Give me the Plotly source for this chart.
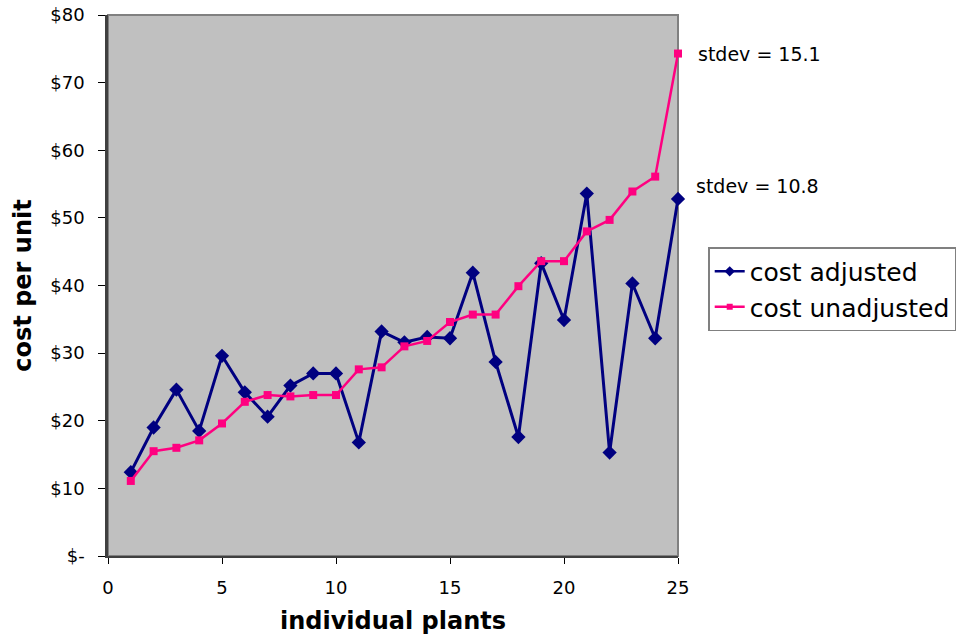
import plotly.graph_objects as go

plants = list(range(1, 26))
cost_adjusted = [12.4, 19.0, 24.6, 18.5, 29.6, 24.2, 20.6, 25.2, 27.0, 27.0,
                 16.8, 33.2, 31.6, 32.4, 32.2, 41.9, 28.7, 17.6, 43.3, 34.9,
                 53.6, 15.3, 40.3, 32.2, 52.8]
cost_unadjusted = [11.1, 15.5, 16.0, 17.1, 19.6, 22.8, 23.8, 23.6, 23.8, 23.8,
                   27.6, 27.9, 31.0, 31.8, 34.6, 35.7, 35.7, 39.9, 43.6, 43.6,
                   48.0, 49.7, 53.9, 56.1, 74.3]
y_tickvals = [0, 10, 20, 30, 40, 50, 60, 70, 80]
y_ticktext = ["$-", "$10", "$20", "$30", "$40", "$50", "$60", "$70", "$80"]
x_tickvals = [0, 5, 10, 15, 20, 25]
stdev_labels = ["stdev = 15.1", "stdev = 10.8"]
series_names = ["cost adjusted", "cost unadjusted"]

FONT = "DejaVu Sans"
NAVY = "#000080"
PINK = "#FF0080"

fig = go.Figure()
fig.add_trace(go.Scatter(
    x=plants, y=cost_adjusted, name=series_names[0], mode="lines+markers",
    line=dict(color=NAVY, width=3),
    marker=dict(symbol="diamond", size=11, color=NAVY),
    cliponaxis=False, showlegend=False))
fig.add_trace(go.Scatter(
    x=plants, y=cost_unadjusted, name=series_names[1], mode="lines+markers",
    line=dict(color=PINK, width=2.5),
    marker=dict(symbol="square", size=8, color=PINK),
    cliponaxis=False, showlegend=False))
# legend entries with smaller markers
fig.add_trace(go.Scatter(
    x=[None], y=[None], name=series_names[0], mode="lines+markers",
    line=dict(color=NAVY, width=2.5),
    marker=dict(symbol="diamond", size=8, color=NAVY)))
fig.add_trace(go.Scatter(
    x=[None], y=[None], name=series_names[1], mode="lines+markers",
    line=dict(color=PINK, width=2.5),
    marker=dict(symbol="square", size=6, color=PINK)))

fig.add_annotation(x=plants[-1], y=cost_unadjusted[-1], xref="x", yref="y",
                   text=stdev_labels[0], showarrow=False, xanchor="left",
                   xshift=18, font=dict(family=FONT, size=19, color="black"))
fig.add_annotation(x=plants[-1], y=54.7, xref="x", yref="y",
                   text=stdev_labels[1], showarrow=False, xanchor="left",
                   xshift=16, font=dict(family=FONT, size=19, color="black"))

fig.add_shape(type="rect", xref="paper", yref="paper", x0=0, y0=0, x1=1, y1=1,
              line=dict(color="#808080", width=2), layer="below")

fig.update_layout(
    width=964, height=641,
    margin=dict(l=108, r=286, t=15, b=85, autoexpand=False),
    paper_bgcolor="white", plot_bgcolor="#C0C0C0",
    font=dict(family=FONT, color="black"),
    showlegend=True,
    legend=dict(x=1.053, y=0.571, xanchor="left", yanchor="top",
                bordercolor="#808080", borderwidth=1.5, bgcolor="white",
                font=dict(family=FONT, size=25), tracegroupgap=0,
                itemwidth=30),
    xaxis=dict(range=[0, 25], tickvals=x_tickvals, showgrid=False, zeroline=False,
               showline=True, linecolor="#404040", linewidth=2,
               ticks="outside", ticklen=6, tickcolor="black",
               tickfont=dict(family=FONT, size=18), ticklabelstandoff=8,
               automargin=False,
               title=dict(text="<b>individual plants</b>", font=dict(family=FONT, size=24),
                          standoff=16)),
    yaxis=dict(range=[0, 80], tickvals=y_tickvals, ticktext=y_ticktext,
               showgrid=False, zeroline=False,
               showline=True, linecolor="#404040", linewidth=2.5,
               ticks="outside", ticklen=7, tickcolor="black",
               tickfont=dict(family=FONT, size=18), ticklabelstandoff=10,
               automargin=False,
               title=dict(text="<b>cost per unit</b>", font=dict(family=FONT, size=24),
                          standoff=12)),
)

fig.write_html("out.html")
